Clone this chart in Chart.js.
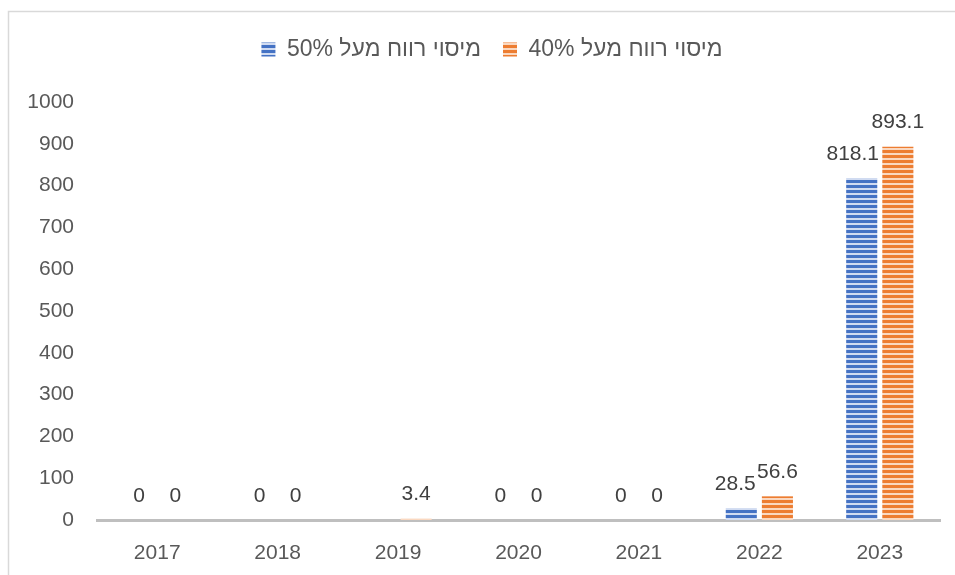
<!DOCTYPE html>
<html>
<head>
<meta charset="utf-8">
<script src="https://cdn.jsdelivr.net/npm/chart.js@4.4.0/dist/chart.umd.min.js"></script>
<style>
  html, body { margin: 0; padding: 0; background: #fff; }
  #wrap { position: relative; width: 955px; height: 575px; }
</style>
</head>
<body>
<div id="wrap"><canvas id="bar-chart" width="955" height="575"></canvas></div>
<script>
// years and both tax series
const years = ['2017', '2018', '2019', '2020', '2021', '2022', '2023'];
const over50 = [0, 0, null, 0, 0, 28.5, 818.1];
const over40 = [0, 0, 3.4, 0, 0, 56.6, 893.1];
const seriesNames = ['מיסוי רווח מעל 50%', 'מיסוי רווח מעל 40%'];
const yMin = 0, yMax = 1000, yStep = 100;

const FONT = '"Liberation Sans", Arial, sans-serif';

// horizontal striped fill
function stripes(base, light) {
  const c = document.createElement('canvas');
  c.width = 8; c.height = 5;
  const g = c.getContext('2d');
  g.fillStyle = light; g.fillRect(0, 0, 8, 5);
  g.fillStyle = base; g.fillRect(0, 0, 8, 3);
  return g.createPattern(c, 'repeat');
}

// outer frame of the chart
const frame = {
  id: 'frame',
  beforeDraw(chart) {
    const ctx = chart.ctx;
    ctx.save();
    ctx.fillStyle = '#fff';
    ctx.fillRect(0, 0, chart.width, chart.height);
    ctx.strokeStyle = '#d9d9d9';
    ctx.lineWidth = 1.5;
    ctx.strokeRect(8.5, 11.5, 2000, 2000);
    ctx.restore();
  }
};

// extra room under the legend, and nudge it right a little
const legendGap = {
  id: 'legendGap',
  beforeInit(chart) {
    if (!chart.legend) return;
    const fit = chart.legend.fit;
    chart.legend.fit = function () {
      fit.bind(chart.legend)();
      this.height += 31;
    };
  },
  afterLayout(chart) {
    if (!chart.legend) return;
    chart.legend.left += 17;
    chart.legend.right += 17;
  }
};

// value above every bar
const valueLabels = {
  id: 'valueLabels',
  afterDatasetsDraw(chart, args, opts) {
    const ctx = chart.ctx;
    ctx.save();
    ctx.font = '21px ' + FONT;
    ctx.fillStyle = '#404040';
    ctx.textAlign = 'center';
    ctx.textBaseline = 'middle';
    chart.data.datasets.forEach((ds, i) => {
      chart.getDatasetMeta(i).data.forEach((bar, j) => {
        const v = ds.data[j];
        if (v === null) return;
        const dx = (opts.shift && opts.shift[i + ':' + j]) || 0;
        ctx.fillText(String(v), bar.x + dx, bar.y - 24);
      });
    });
    ctx.restore();
  }
};

new Chart(document.getElementById('bar-chart'), {
  type: 'bar',
  data: {
    labels: years,
    datasets: [
      {
        label: seriesNames[0],
        data: over50,
        backgroundColor: stripes('#4472c4', '#d0dbf1'),
        categoryPercentage: 0.6,
        barPercentage: 0.86
      },
      {
        label: seriesNames[1],
        data: over40,
        backgroundColor: stripes('#ed7d31', '#fad8c0'),
        categoryPercentage: 0.6,
        barPercentage: 0.86
      }
    ]
  },
  options: {
    responsive: false,
    animation: false,
    devicePixelRatio: 1,
    layout: { padding: { top: 16, left: 10, right: 15, bottom: 0 } },
    plugins: {
      legend: {
        position: 'top',
        textDirection: 'rtl',
        labels: {
          color: '#595959',
          font: { size: 23, family: FONT },
          boxWidth: 14,
          boxHeight: 14,
          padding: 22
        }
      },
      tooltip: { enabled: false },
      valueLabels: { shift: { '0:5': -6, '0:6': -9 } }
    },
    scales: {
      x: {
        grid: { display: false, drawTicks: false },
        border: { display: true, color: '#bfbfbf', width: 3 },
        ticks: { color: '#595959', font: { size: 21, family: FONT }, padding: 21 },
        afterFit(s) { s.height = 55; }
      },
      y: {
        min: yMin,
        max: yMax,
        grid: { display: false, drawTicks: false },
        border: { display: false },
        ticks: {
          stepSize: yStep,
          color: '#595959',
          font: { size: 21, family: FONT },
          padding: 23,
          callback: (v) => String(v)
        },
        afterFit(s) { s.width = 87; }
      }
    }
  },
  plugins: [frame, legendGap, valueLabels]
});
</script>
</body>
</html>
